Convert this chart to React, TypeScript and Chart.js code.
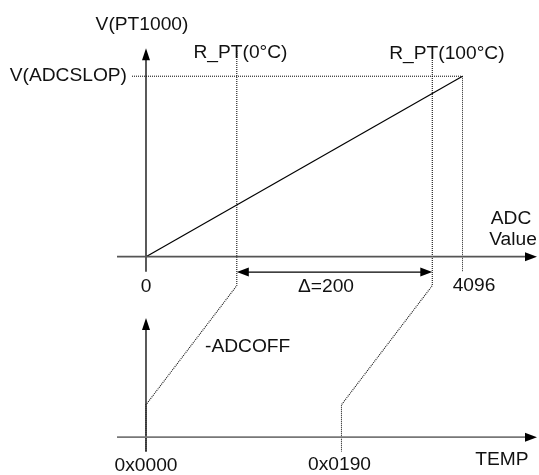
import React, { useEffect, useRef } from "react";
import { Chart, registerables } from "chart.js";

Chart.register(...registerables);

// ---- data (ADC counts on x, normalised voltage on y; V(ADCSLOP) = 1) ----
const adcTicks = [0, 4096];
const adcTickLabels = ["0", "4096"];
const rptAdc = [1175, 3705]; // R_PT(0°C), R_PT(100°C)
const rptLabels = ["R_PT(0°C)", "R_PT(100°C)"];
const vSlope = [0, 1]; // ADC line: V at ADC 0 and ADC 4096
const tempTickLabels = ["0x0000", "0x0190"];
const deltaLabel = "Δ=200";

// diagram levels
const topAxisY = 0;
const bottomAxisY = -1;
const axisStartX = -375;
const axisEndX = 5060;
const topYAxisTop = 1.155;
const topYAxisBottom = -0.083;
const deltaY = -0.085;
const rptTop = [1.14, 1.09];
const rptBend = -0.16;
const rptKnee = -0.82;
const lowEnd = -1.08;
const bottomYAxisTop = -0.34;
const slopeLineStart = -181;

// temperature axis positions: TEMP = ADC - ADCOFF (ADCOFF = R_PT(0°C))
const tempTicks = rptAdc.map((v) => v - rptAdc[0]);

const FONT = '19.2px "Liberation Sans", Arial, sans-serif';

type Lbl = { text: string; x: number; y: number; align: CanvasTextAlign };
const labels: Lbl[] = [
  { text: "V(PT1000)", x: -52, y: 1.286, align: "center" },
  { text: "V(ADCSLOP)", x: -246, y: 1.0, align: "right" },
  { text: rptLabels[0], x: 1223, y: 1.131, align: "center" },
  { text: rptLabels[1], x: 3894, y: 1.123, align: "center" },
  { text: "ADC", x: 4724, y: 0.209, align: "center" },
  { text: "Value", x: 4750, y: 0.095, align: "center" },
  { text: adcTickLabels[0], x: adcTicks[0], y: -0.165, align: "center" },
  { text: adcTickLabels[1], x: 4245, y: -0.163, align: "center" },
  { text: deltaLabel, x: 2329, y: -0.168, align: "center" },
  { text: "-ADCOFF", x: 764, y: -0.4975, align: "left" },
  { text: tempTickLabels[0], x: tempTicks[0], y: -1.157, align: "center" },
  { text: tempTickLabels[1], x: tempTicks[1] - 25, y: -1.152, align: "center" },
  { text: "TEMP", x: 4607, y: -1.126, align: "center" },
];

type Arrow = { x: number; y: number; dir: "up" | "left" | "right"; len: number; half: number };
const arrows: Arrow[] = [
  { x: axisEndX, y: topAxisY, dir: "right", len: 12, half: 4.5 },
  { x: axisEndX, y: bottomAxisY, dir: "right", len: 12, half: 4.5 },
  { x: 0, y: topYAxisTop, dir: "up", len: 12, half: 4 },
  { x: 0, y: bottomYAxisTop, dir: "up", len: 12, half: 4 },
  { x: rptAdc[0], y: deltaY, dir: "left", len: 12, half: 4.5 },
  { x: rptAdc[1], y: deltaY, dir: "right", len: 12, half: 4.5 },
];

const diagramPlugin = {
  id: "diagram",
  afterDatasetsDraw(chart: any) {
    const { ctx } = chart;
    const xs = chart.scales.x;
    const ys = chart.scales.y;
    ctx.save();
    ctx.fillStyle = "#000";
    for (const a of arrows) {
      const px = xs.getPixelForValue(a.x);
      const py = ys.getPixelForValue(a.y);
      ctx.beginPath();
      if (a.dir === "right") {
        ctx.moveTo(px, py);
        ctx.lineTo(px - a.len, py - a.half);
        ctx.lineTo(px - a.len, py + a.half);
      } else if (a.dir === "left") {
        ctx.moveTo(px, py);
        ctx.lineTo(px + a.len, py - a.half);
        ctx.lineTo(px + a.len, py + a.half);
      } else {
        ctx.moveTo(px, py);
        ctx.lineTo(px - a.half, py + a.len);
        ctx.lineTo(px + a.half, py + a.len);
      }
      ctx.closePath();
      ctx.fill();
    }
    ctx.font = FONT;
    ctx.textBaseline = "middle";
    ctx.fillStyle = "#111";
    for (const l of labels) {
      ctx.textAlign = l.align;
      ctx.fillText(l.text, xs.getPixelForValue(l.x), ys.getPixelForValue(l.y));
    }
    ctx.restore();
  },
};

const line = (data: { x: number; y: number }[], color: string, width: number, dash: number[] = []) => ({
  data,
  showLine: true,
  borderColor: color,
  borderWidth: width,
  borderDash: dash,
  pointRadius: 0,
  fill: false,
  tension: 0,
});

export default function App() {
  const ref = useRef<HTMLCanvasElement>(null);
  useEffect(() => {
    if (!ref.current) return;
    const dot = [1, 1];
    const chart = new Chart(ref.current, {
      type: "scatter",
      data: {
        datasets: [
          line([{ x: axisStartX, y: topAxisY }, { x: axisEndX - 100, y: topAxisY }], "#555", 1.8),
          line([{ x: axisStartX, y: bottomAxisY }, { x: axisEndX - 100, y: bottomAxisY }], "#777", 1.8),
          line([{ x: 0, y: topYAxisBottom }, { x: 0, y: topYAxisTop - 0.03 }], "#000", 1.3),
          line([{ x: 0, y: lowEnd }, { x: 0, y: bottomYAxisTop - 0.03 }], "#000", 1.3),
          line([{ x: adcTicks[0], y: vSlope[0] }, { x: adcTicks[1], y: vSlope[1] }], "#000", 1.2),
          line([{ x: slopeLineStart, y: vSlope[1] }, { x: adcTicks[1], y: vSlope[1] }], "#000", 1, dot),
          line([{ x: adcTicks[1], y: vSlope[1] }, { x: adcTicks[1], y: topYAxisBottom }], "#222", 1, dot),
          line(
            [
              { x: rptAdc[0], y: rptTop[0] },
              { x: rptAdc[0], y: rptBend },
              { x: tempTicks[0], y: rptKnee },
              { x: tempTicks[0], y: lowEnd },
            ],
            "#111",
            1.1,
            dot
          ),
          line(
            [
              { x: rptAdc[1], y: rptTop[1] },
              { x: rptAdc[1], y: rptBend },
              { x: tempTicks[1], y: rptKnee },
              { x: tempTicks[1], y: lowEnd },
            ],
            "#111",
            1.1,
            dot
          ),
          line([{ x: rptAdc[0] + 100, y: deltaY }, { x: rptAdc[1] - 100, y: deltaY }], "#000", 1.2),
        ],
      },
      options: {
        animation: false,
        responsive: true,
        maintainAspectRatio: false,
        layout: { padding: 0 },
        plugins: { legend: { display: false }, tooltip: { enabled: false } },
        events: [],
        scales: {
          x: { type: "linear", display: false, min: -1889.4, max: 5086.0 },
          y: { type: "linear", display: false, min: -1.2094, max: 1.4222 },
        },
      },
      plugins: [diagramPlugin],
    });
    return () => chart.destroy();
  }, []);
  return (
    <div style={{ position: "absolute", left: 0, top: 0, width: 539, height: 475, background: "#fff" }}>
      <canvas ref={ref} />
    </div>
  );
}
